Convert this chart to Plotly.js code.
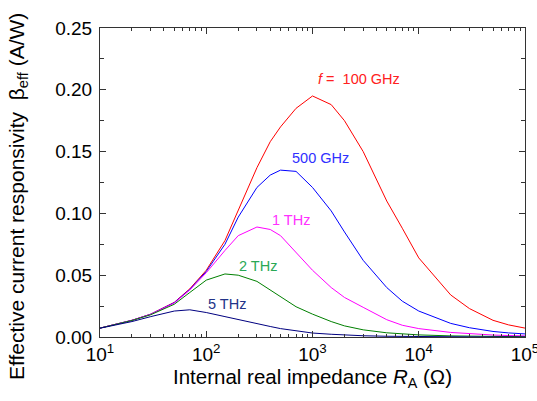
<!DOCTYPE html>
<html>
<head>
<meta charset="utf-8">
<script src="https://cdn.plot.ly/plotly-3.0.1.min.js"></script>
<style>
html,body{margin:0;padding:0;background:#fff;}
#chart{width:537px;height:401px;}
</style>
</head>
<body>
<div id="chart"></div>
<script>
// Internal real impedance R_A (Ohm)
const impedance = [10,20,30,50,70,100,150,200,300,400,500,700,1000,1500,2000,3000,5000,7000,10000,20000,30000,50000,70000,100000];

// Effective current responsivity (A/W) per frequency
const beta100GHz = [0.0072,0.0135,0.0185,0.028,0.039,0.054,0.078,0.102,0.137,0.158,0.170,0.185,0.195,0.188,0.175,0.150,0.110,0.088,0.064,0.034,0.023,0.0135,0.0098,0.0072];
const beta500GHz = [0.0072,0.0135,0.0184,0.0278,0.0385,0.053,0.075,0.097,0.121,0.131,0.135,0.134,0.121,0.102,0.085,0.062,0.040,0.029,0.021,0.0110,0.0075,0.0045,0.0033,0.0025];
const beta1THz   = [0.0072,0.0135,0.0183,0.0275,0.038,0.052,0.070,0.082,0.089,0.087,0.082,0.068,0.054,0.040,0.032,0.024,0.014,0.0095,0.0068,0.0037,0.0026,0.0016,0.0012,0.0009];
const beta2THz   = [0.0072,0.0134,0.018,0.0265,0.036,0.046,0.051,0.050,0.045,0.038,0.032,0.0245,0.0185,0.0125,0.009,0.0058,0.0034,0.0024,0.0017,0.0009,0.0006,0.0004,0.0003,0.0002];
const beta5THz   = [0.0071,0.0125,0.0165,0.021,0.022,0.0198,0.0165,0.014,0.0105,0.0085,0.0068,0.005,0.0032,0.0022,0.0015,0.001,0.0006,0.0004,0.0003,0.00015,0.0001,0.00006,0.00004,0.00003];

const seriesNames = ['f = 100 GHz','500 GHz','1 THz','2 THz','5 THz'];
const seriesData = [beta100GHz, beta500GHz, beta1THz, beta2THz, beta5THz];
const lineColors = ['#ff0000','#0000ff','#ff00ff','#008000','#000080'];

const xTickVals = [10,100,1000,10000,100000];
const xTickText = ['10<sup>1</sup>','10<sup>2</sup>','10<sup>3</sup>','10<sup>4</sup>','10<sup>5</sup>'];
const yTickVals = [0,0.05,0.10,0.15,0.20,0.25];
const yTickText = ['0.00','0.05','0.10','0.15','0.20','0.25'];

const xMinor = [];
[10,100,1000,10000].forEach(d => { for (let k = 2; k <= 9; k++) xMinor.push(d*k); });

const traces = seriesData.map((ys, i) => ({
  x: impedance, y: ys, type: 'scatter', mode: 'lines', name: seriesNames[i],
  line: {color: lineColors[i], width: 1}, hoverinfo: 'skip'
}));

const font = 'Arial, "Liberation Sans", sans-serif';
const annots = [
  {x: 3.438, y: 0.2087, text: '<i>f</i> =  100 GHz', color: '#ff2020'},
  {x: 3.075, y: 0.1448, text: '500 GHz', color: '#3030ff'},
  {x: 2.793, y: 0.0947, text: '1 THz', color: '#ff30ff'},
  {x: 2.487, y: 0.0577, text: '2 THz', color: '#2aa855'},
  {x: 2.195, y: 0.0267, text: '5 THz', color: '#223388'}
].map(a => ({x: a.x, y: a.y, xref: 'x', yref: 'y', text: a.text, showarrow: false,
  font: {family: font, size: 14.5, color: a.color}}));

// y-axis title drawn as a rotated annotation (offset downward like the reference)
annots.push({
  xref: 'paper', yref: 'paper', x: -0.193, y: 0.456, xanchor: 'center', yanchor: 'middle',
  textangle: -90, showarrow: false,
  text: 'Effective current responsivity  β<sub>eff</sub> (A/W)',
  font: {family: font, size: 21, color: '#000'}
});

const layout = {
  width: 537, height: 401,
  margin: {l: 100, r: 12, t: 28, b: 64, pad: 0},
  paper_bgcolor: '#fff', plot_bgcolor: '#fff',
  showlegend: false,
  font: {family: font, color: '#000'},
  xaxis: {
    type: 'log', range: [0.99995, 5.00005], tickmode: 'array', tickvals: xTickVals, ticktext: xTickText,
    ticks: 'inside', ticklen: 6, tickwidth: 1, tickcolor: '#333',
    showline: true, linecolor: '#333', linewidth: 1, mirror: 'ticks',
    showgrid: false, zeroline: false, ticklabeloverflow: 'allow',
    tickfont: {family: font, size: 19, color: '#000'},
    minor: {tickmode: 'array', tickvals: xMinor, ticks: 'inside', ticklen: 3, tickwidth: 1, tickcolor: '#333', showgrid: false},
    title: {text: 'Internal real impedance <i>R</i><sub>A</sub> (Ω)', font: {family: font, size: 20.5, color: '#000'}, standoff: 4}
  },
  yaxis: {
    range: [0, 0.25], tickmode: 'array', tickvals: yTickVals, ticktext: yTickText,
    ticks: 'inside', ticklen: 6, tickwidth: 1, tickcolor: '#333',
    showline: true, linecolor: '#333', linewidth: 1, mirror: 'ticks',
    showgrid: false, zeroline: false, ticklabelstandoff: 3,
    tickfont: {family: font, size: 19, color: '#000'},
    minor: {tickmode: 'array', tickvals: [0.025,0.075,0.125,0.175,0.225], ticks: 'inside', ticklen: 4, tickwidth: 1, tickcolor: '#333', showgrid: false}
  },
  annotations: annots
};

Plotly.newPlot('chart', traces, layout, {staticPlot: true, displayModeBar: false});
</script>
</body>
</html>
